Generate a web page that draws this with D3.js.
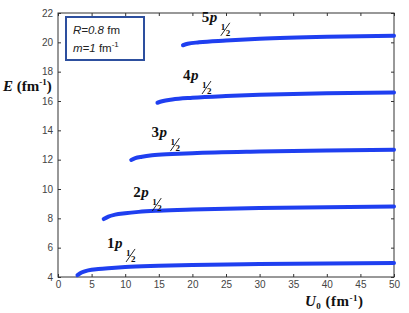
<!DOCTYPE html>
<html>
<head>
<meta charset="utf-8">
<script src="https://cdn.jsdelivr.net/npm/d3@7"></script>
<style>
  body { margin: 0; background: #fff; }
  svg { display: block; }
  .tick text { font-family: "Liberation Sans", Arial, sans-serif; font-size: 10px; fill: #444; }
  .lbl { font-family: "Liberation Serif", "DejaVu Serif", serif; font-weight: bold; fill: #111; }
</style>
</head>
<body>
<svg id="chart" width="409" height="313"></svg>
<script>
// levels: n p1/2, energy vs well depth
const levelNames = ['1', '2', '3', '4', '5'];
const u1 = [2.9, 3.5, 4.5, 6, 8, 10, 15, 20, 30, 40, 50];
const e1 = [4.12, 4.3, 4.45, 4.55, 4.62, 4.68, 4.76, 4.82, 4.88, 4.92, 4.95];
const u2 = [6.8, 7.5, 8.5, 10, 12, 15, 20, 30, 40, 50];
const e2 = [7.95, 8.12, 8.25, 8.35, 8.44, 8.52, 8.6, 8.7, 8.76, 8.8];
const u3 = [10.9, 11.5, 12.5, 14, 17, 20, 30, 40, 50];
const e3 = [11.98, 12.1, 12.2, 12.3, 12.38, 12.44, 12.55, 12.62, 12.67];
const u4 = [14.8, 15.5, 17, 20, 25, 30, 40, 50];
const e4 = [15.88, 15.98, 16.1, 16.22, 16.34, 16.42, 16.52, 16.58];
const u5 = [18.6, 19.3, 21, 25, 30, 40, 50];
const e5 = [19.8, 19.9, 20.0, 20.12, 20.24, 20.38, 20.45];
// label anchor (U0, E) for each level
const labelU = [7.3, 11.2, 13.9, 18.6, 21.4];
const labelE = [5.98, 9.45, 13.54, 17.43, 21.4];
const xTicks = [0, 5, 10, 15, 20, 25, 30, 35, 40, 45, 50];
const yTicks = [4, 6, 8, 10, 12, 14, 16, 18, 20, 22];

const allU = [u1, u2, u3, u4, u5];
const allE = [e1, e2, e3, e4, e5];

const svg = d3.select('#chart');
const m = { left: 58, right: 394, top: 13, bottom: 277 };

const x = d3.scaleLinear().domain([0, 50]).range([m.left, m.right]);
const y = d3.scaleLinear().domain([4, 22]).range([m.bottom, m.top]);

// axes with inward ticks, matlab-style box
svg.append('g')
  .attr('transform', `translate(0,${m.bottom})`)
  .call(d3.axisBottom(x).tickValues(xTicks).tickSizeInner(-3).tickSizeOuter(0).tickPadding(4))
  .call(g => g.select('.domain').remove());
svg.append('g')
  .attr('transform', `translate(0,${m.top})`)
  .call(d3.axisTop(x).tickValues(xTicks).tickSizeInner(-3).tickSizeOuter(0).tickFormat(''))
  .call(g => g.select('.domain').remove());
svg.append('g')
  .attr('transform', `translate(${m.left},0)`)
  .call(d3.axisLeft(y).tickValues(yTicks).tickSizeInner(-3).tickSizeOuter(0).tickPadding(5))
  .call(g => g.select('.domain').remove());
svg.append('g')
  .attr('transform', `translate(${m.right},0)`)
  .call(d3.axisRight(y).tickValues(yTicks).tickSizeInner(-3).tickSizeOuter(0).tickFormat(''))
  .call(g => g.select('.domain').remove());
svg.selectAll('.tick line').attr('stroke', '#333');

svg.append('rect')
  .attr('x', m.left).attr('y', m.top)
  .attr('width', m.right - m.left).attr('height', m.bottom - m.top)
  .attr('fill', 'none').attr('stroke', '#333').attr('stroke-width', 1);

const line = d3.line()
  .x(d => x(d[0]))
  .y(d => y(d[1]))
  .curve(d3.curveMonotoneX);

allU.forEach((us, i) => {
  const pts = us.map((u, j) => [u, allE[i][j]]);
  svg.append('path')
    .attr('d', line(pts))
    .attr('fill', 'none')
    .attr('stroke', '#1f3ff0')
    .attr('stroke-width', 4)
    .attr('stroke-linecap', 'round');
});

// level labels n p_{1/2}
levelNames.forEach((n, i) => {
  const lx = x(labelU[i]), ly = y(labelE[i]);
  const t = svg.append('text')
    .attr('class', 'lbl')
    .attr('x', lx).attr('y', ly)
    .attr('font-size', 15)
    .attr('letter-spacing', 0.5);
  t.append('tspan').text(n);
  t.append('tspan').attr('font-style', 'italic').text('p');
  const sx = lx + 19;
  svg.append('text').attr('class', 'lbl').attr('font-size', 9)
    .attr('x', sx).attr('y', ly + 8).text('1');
  svg.append('line')
    .attr('x1', sx).attr('y1', ly + 14)
    .attr('x2', sx + 9).attr('y2', ly + 1)
    .attr('stroke', '#111').attr('stroke-width', 0.9);
  svg.append('text').attr('class', 'lbl').attr('font-size', 9)
    .attr('x', sx + 5).attr('y', ly + 14).text('2');
});

// parameter box
svg.append('rect')
  .attr('x', 66).attr('y', 17).attr('width', 78).attr('height', 43)
  .attr('fill', '#fff').attr('stroke', '#2d4f9e').attr('stroke-width', 2);
const box = svg.append('g')
  .attr('font-family', '"Liberation Sans", Arial, sans-serif')
  .attr('font-size', 11.5).attr('fill', '#222');
const l1 = box.append('text').attr('x', 73).attr('y', 34);
l1.append('tspan').attr('font-style', 'italic').text('R=0.8');
l1.append('tspan').text(' fm');
const l2 = box.append('text').attr('x', 73).attr('y', 52);
l2.append('tspan').attr('font-style', 'italic').text('m=1');
l2.append('tspan').text(' fm');
l2.append('tspan').attr('font-size', 8).attr('dy', -5).text('-1');

// axis titles
const yl = svg.append('text').attr('class', 'lbl').attr('font-size', 15)
  .attr('x', 3).attr('y', 91);
yl.append('tspan').attr('font-style', 'italic').text('E');
yl.append('tspan').text(' (fm');
yl.append('tspan').attr('font-size', 9).attr('dy', -6).text('-1');
yl.append('tspan').attr('dy', 6).text(')');

const xl = svg.append('text').attr('class', 'lbl').attr('font-size', 15)
  .attr('x', 305).attr('y', 306).attr('letter-spacing', 0.5);
xl.append('tspan').attr('font-style', 'italic').text('U');
xl.append('tspan').attr('font-size', 9).attr('dy', 3).text('0');
xl.append('tspan').attr('dy', -3).text(' (fm');
xl.append('tspan').attr('font-size', 9).attr('dy', -5).text('-1');
xl.append('tspan').attr('dy', 5).text(')');
</script>
</body>
</html>
